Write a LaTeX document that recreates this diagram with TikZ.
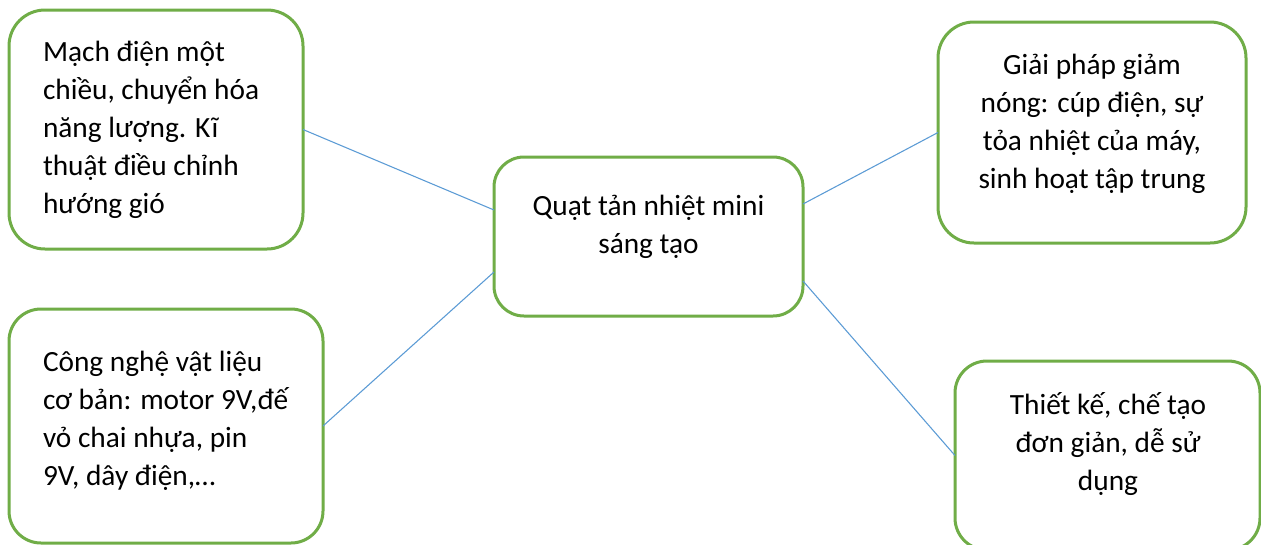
\documentclass[tikz,border=0pt]{standalone}
\usepackage{fontspec}
\setmainfont{Carlito}
\usetikzlibrary{calc}
\definecolor{boxgreen}{HTML}{70AD47}
\definecolor{lineblue}{HTML}{5B9BD5}
\tikzset{
  box/.style={draw=boxgreen, line width=2.25pt, inner sep=0pt, outer sep=0pt, rectangle},
  txt/.style={inner sep=0pt, outer sep=0pt, font=\fontsize{22pt}{28.5pt}\selectfont},
  conn/.style={draw=lineblue, line width=0.8pt}
}
\begin{document}
\begin{tikzpicture}[x=0.75pt,y=-0.75pt]
\useasboundingbox (0,0) rectangle (1261,544);
\clip (0,0) rectangle (1261,544);
\fill[white] (0,0) rectangle (1261,544);
% boxes
\node[box, rounded corners=27pt, minimum width=220.5pt, minimum height=179.25pt] (b1) at (156,129.5) {};
\node[box, rounded corners=22.5pt, minimum width=231.75pt, minimum height=119.25pt] (c) at (648.5,236.5) {};
\node[box, rounded corners=27pt, minimum width=231pt, minimum height=165.75pt] (b2) at (1092,132.5) {};
\node[box, rounded corners=24pt, minimum width=235.5pt, minimum height=175.5pt] (b3) at (166,426) {};
\node[box, rounded corners=24pt, minimum width=228.75pt, minimum height=141.75pt] (b4) at (1107.5,455.5) {};
% texts (anchor = baseline of last line)
\node[txt, align=left, anchor=base west] (b1t) at (43,213) {Mạch điện một\\chiều, chuyển hóa\\năng lượng. Kĩ\\thuật điều chỉnh\\hướng gió};
\node[txt, align=center, anchor=base] (ct) at (648.5,253) {Quạt tản nhiệt mini\\sáng tạo};
\node[txt, align=center, anchor=base] (b2t) at (1092,188) {Giải pháp giảm\\nóng: cúp điện, sự\\tỏa nhiệt của máy,\\sinh hoạt tập trung};
\node[txt, align=left, anchor=base west] (b3t) at (43,485) {Công nghệ vật liệu\\cơ bản: motor 9V,đế\\vỏ chai nhựa, pin\\9V, dây điện,…};
\node[txt, align=center, anchor=base] (b4t) at (1108,490) {Thiết kế, chế tạo\\đơn giản, dễ sử\\dụng};
% connectors
\draw[conn] (b1.east) -- ($(c.west)+(0,-26.5)$);
\draw[conn] (b3.east) -- ($(c.west)+(0,35.5)$);
\draw[conn] ($(c.east)+(0,-32.5)$) -- (b2.west);
\draw[conn] ($(c.east)+(0,44.5)$) -- (b4.west);
\end{tikzpicture}
\end{document}
